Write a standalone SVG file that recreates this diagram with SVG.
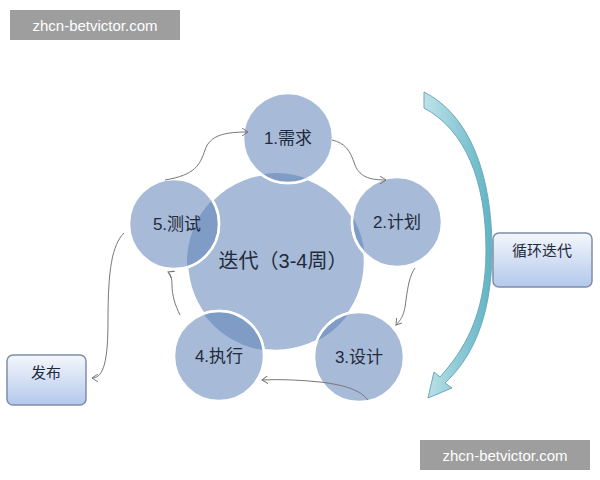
<svg xmlns="http://www.w3.org/2000/svg" width="600" height="480" viewBox="0 0 600 480">
<defs>
<style>
.c{fill:#a7bbd8;stroke:#fff;stroke-width:2.5}
.o{fill:#7f9cc6}
.t{font-family:"Liberation Sans","Noto Sans CJK SC",sans-serif;fill:#1f2a3a}
.l{fill:none;stroke:#777;stroke-width:1}
.b{fill:url(#g);stroke:#7f8ea6;stroke-width:1.5}
</style>
<linearGradient id="g" x1="0" y1="0" x2="0" y2="1"><stop offset="0" stop-color="#f4f7fc"/><stop offset="1" stop-color="#b3c8ec"/></linearGradient>
<linearGradient id="ag" x1="0" y1="0" x2="1" y2="0"><stop offset="0" stop-color="#bfe3ea"/><stop offset="1" stop-color="#5fb3c4"/></linearGradient>
<marker id="m" markerWidth="8" markerHeight="8" refX="6" refY="4" orient="auto" markerUnits="userSpaceOnUse"><path d="M0,0 L6,4 L0,8" fill="none" stroke="#777"/></marker>
<clipPath id="cc"><circle cx="276" cy="262" r="89"/></clipPath>
</defs>
<rect width="600" height="480" fill="#fff"/>
<g id="center"><circle class="c" cx="276" cy="262" r="89"/></g>
<g id="n1"><circle class="c" cx="288" cy="138" r="45"/></g>
<g id="n2"><circle class="c" cx="397" cy="222" r="45"/></g>
<g id="n3"><circle class="c" cx="359" cy="357" r="45"/></g>
<g id="n4"><circle class="c" cx="219" cy="356" r="45"/></g>
<g id="n5"><circle class="c" cx="174" cy="224" r="45"/></g>
<g clip-path="url(#cc)">
<circle class="o" cx="288" cy="138" r="45"/><circle class="o" cx="397" cy="222" r="45"/><circle class="o" cx="359" cy="357" r="45"/><circle class="o" cx="219" cy="356" r="45"/><circle class="o" cx="174" cy="224" r="45"/>
</g>
<g fill="none" stroke="#fff" stroke-width="2.5" clip-path="url(#cc)">
<circle cx="288" cy="138" r="45"/><circle cx="397" cy="222" r="45"/><circle cx="359" cy="357" r="45"/><circle cx="219" cy="356" r="45"/><circle cx="174" cy="224" r="45"/>
</g>
<g class="t" font-size="17">
<text x="288" y="144" text-anchor="middle">1.需求</text>
<text x="397" y="228" text-anchor="middle">2.计划</text>
<text x="359" y="363" text-anchor="middle">3.设计</text>
<text x="219" y="362" text-anchor="middle">4.执行</text>
<text x="177" y="230" text-anchor="middle">5.测试</text>
<text x="283" y="268" text-anchor="middle" font-size="20">迭代（3-4周）</text>
</g>
<g id="connectors">
<path class="l" marker-end="url(#m)" d="M165,180 C195,175 200,165 205,150 C210,135 225,132 248,132"/>
<path class="l" marker-end="url(#m)" d="M332,140 C345,143 350,150 355,165 C360,178 372,180 386,180"/>
<path class="l" marker-end="url(#m)" d="M415,268 C410,275 408,285 406,300 C404,318 400,320 396,325"/>
<path class="l" marker-end="url(#m)" d="M368,400 C360,390 345,385 320,382 C300,380 280,379 262,380"/>
<path class="l" marker-end="url(#m)" d="M180,315 C175,305 172,295 172,285 C172,278 170,273 168,272"/>
<path class="l" marker-end="url(#m)" d="M124,233 C112,245 108,270 108,320 C108,360 104,378 92,378"/>
<path d="M424,92 C470,115 492,175 492,250 C492,320 470,360 445,383 L452,388 L428,398 L434,372 L440,377 C462,352 486,318 486,250 C486,180 465,130 424,108 Z" fill="url(#ag)" stroke="#6fa9b8" stroke-width="1"/>
</g>
<g id="b1"><rect class="b" x="493" y="233" width="99" height="54" rx="6"/><text class="t" x="542" y="256" font-size="15" text-anchor="middle">循环迭代</text></g>
<g id="b2"><rect class="b" x="7" y="355" width="79" height="50" rx="6"/><text class="t" x="46" y="378" font-size="15" text-anchor="middle">发布</text></g>
<g id="wm" font-family="Liberation Sans,sans-serif" font-size="15" fill="#fff">
<rect x="10" y="10" width="170" height="30" fill="#9e9e9e"/><text x="95" y="31" text-anchor="middle">zhcn-betvictor.com</text>
<rect x="420" y="440" width="170" height="30" fill="#9e9e9e"/><text x="505" y="461" text-anchor="middle">zhcn-betvictor.com</text>
</g>
</svg>
